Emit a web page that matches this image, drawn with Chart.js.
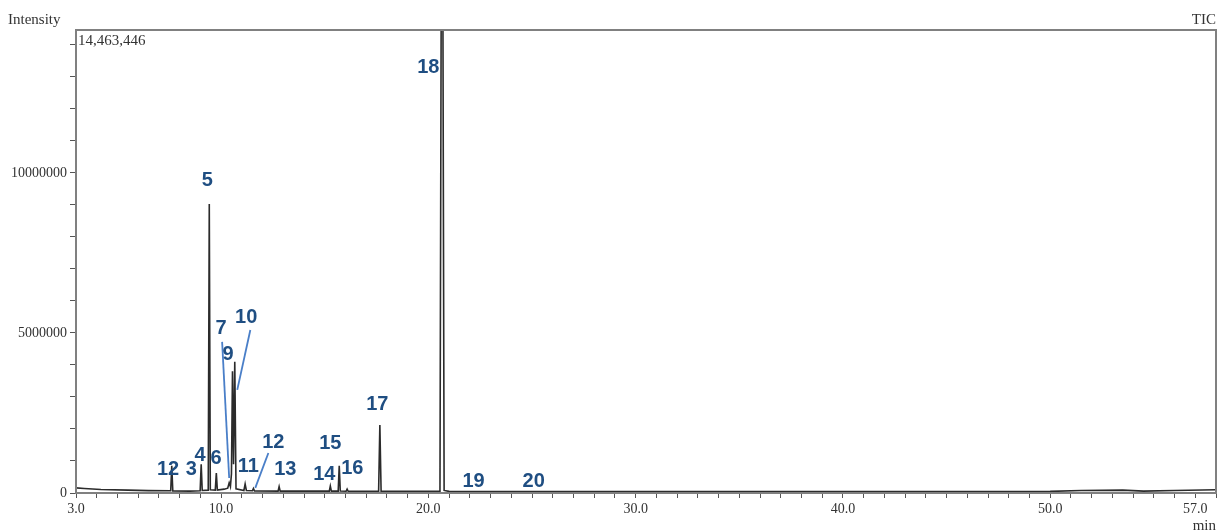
<!DOCTYPE html>
<html>
<head>
<meta charset="utf-8">
<script src="https://cdn.jsdelivr.net/npm/chart.js@4.4.1/dist/chart.umd.min.js"></script>
<style>
  html, body { margin: 0; padding: 0; background: #fff; }
  #wrap { width: 1219px; height: 532px; }
</style>
</head>
<body>
<div id="wrap"><canvas id="tic" width="1219" height="532"></canvas></div>
<script>
// retention time (min) and TIC intensity
const retentionTimes = [
  3.0, 3.4, 4.2, 5.5, 6.5,
  7.57, 7.62, 7.67,
  8.5, 8.99, 9.04, 9.09,
  9.38, 9.43, 9.48,
  9.72, 9.77, 9.82,
  10.15, 10.32, 10.39, 10.45,
  10.5, 10.55, 10.6, 10.66, 10.72,
  11.1, 11.16, 11.22,
  11.51, 11.56, 11.61,
  12.75, 12.8, 12.85,
  15.22, 15.27, 15.32,
  15.65, 15.7, 15.75,
  16.03, 16.08, 16.13,
  17.6, 17.66, 17.72,
  20.56, 20.62, 20.7, 20.76, 21.0,
  30.0, 40.0, 50.0, 51.5, 53.5, 54.5, 56.0, 58.0
];
const intensities = [
  160000, 140000, 110000, 90000, 75000,
  70000, 850000, 65000,
  60000, 70000, 900000, 80000,
  90000, 9030000, 100000,
  90000, 620000, 90000,
  120000, 150000, 320000, 200000,
  600000, 3800000, 900000, 4100000, 130000,
  80000, 280000, 80000,
  70000, 140000, 65000,
  60000, 200000, 60000,
  60000, 220000, 60000,
  60000, 850000, 60000,
  55000, 120000, 55000,
  55000, 2120000, 55000,
  50000, 15500000, 15500000, 80000, 50000,
  45000, 45000, 50000, 80000, 90000, 60000, 80000, 100000
];

// peak numbers and where they sit (time, intensity)
const peakLabels = ['12', '3', '4', '5', '6', '7', '9', '10', '11', '12', '13', '14', '15', '16', '17', '18', '19', '20'];
const peakLabelTimes = [7.44, 8.56, 8.99, 9.33, 9.76, 10.0, 10.34, 11.21, 11.31, 12.52, 13.1, 14.98, 15.27, 16.33, 17.54, 20.0, 22.18, 25.08];
const peakLabelLevels = [750000, 750000, 1160000, 9750000, 1090000, 5130000, 4340000, 5470000, 840000, 1590000, 720000, 590000, 1560000, 780000, 2780000, 13280000, 375000, 375000];

// leader lines: [t1, y1, t2, y2]
const leaderLines = [
  [10.05, 4720000, 10.39, 470000],
  [11.41, 5090000, 10.78, 3220000],
  [12.28, 1250000, 11.65, 160000]
];

const xLabelled = [3, 10, 20, 30, 40, 50, 57];
const yLabelled = [0, 5000000, 10000000];
const topIntensity = 14463446;

const serif = "'Liberation Serif', 'Times New Roman', serif";

const overlay = {
  id: 'overlay',
  afterDraw(chart) {
    const ctx = chart.ctx;
    const a = chart.chartArea;
    const x = chart.scales.x, y = chart.scales.y;
    ctx.save();
    // frame
    ctx.strokeStyle = '#808080';
    ctx.lineWidth = 2;
    ctx.strokeRect(a.left, a.top, a.right - a.left, a.bottom - a.top);

    // leader lines
    ctx.strokeStyle = '#4a7fc8';
    ctx.lineWidth = 1.8;
    leaderLines.forEach(l => {
      ctx.beginPath();
      ctx.moveTo(x.getPixelForValue(l[0]), y.getPixelForValue(l[1]));
      ctx.lineTo(x.getPixelForValue(l[2]), y.getPixelForValue(l[3]));
      ctx.stroke();
    });

    // peak numbers
    ctx.fillStyle = '#1f4e82';
    ctx.font = "bold 20px 'Liberation Sans', Arial, sans-serif";
    ctx.textAlign = 'center';
    ctx.textBaseline = 'middle';
    peakLabels.forEach((t, i) => {
      ctx.fillText(t, x.getPixelForValue(peakLabelTimes[i]), y.getPixelForValue(peakLabelLevels[i]));
    });

    // header texts
    ctx.fillStyle = '#333';
    ctx.font = '15px ' + serif;
    ctx.textAlign = 'left';
    ctx.fillText('Intensity', 8, 20);
    ctx.fillText(topIntensity.toLocaleString('en-US'), a.left + 2, a.top + 11);
    ctx.textAlign = 'right';
    ctx.fillText('TIC', a.right, 20);
    ctx.fillText('min', a.right, 526);
    ctx.restore();
  }
};

new Chart(document.getElementById('tic'), {
  type: 'line',
  data: {
    datasets: [{
      label: 'TIC',
      data: retentionTimes.map((t, i) => ({ x: t, y: intensities[i] })),
      borderColor: '#2b2b2b',
      borderWidth: 1.6,
      pointRadius: 0,
      tension: 0,
      fill: false
    }]
  },
  options: {
    responsive: false,
    animation: false,
    devicePixelRatio: 1,
    layout: { padding: { top: 30, right: 2, left: 0, bottom: 0 } },
    plugins: {
      legend: { display: false },
      tooltip: { enabled: false }
    },
    scales: {
      x: {
        type: 'linear',
        min: 3,
        max: 58,
        afterBuildTicks: s => {
          const t = [];
          for (let v = 3; v <= 58; v++) t.push({ value: v });
          s.ticks = t;
        },
        afterFit: s => { s.height = 39; },
        border: { display: false },
        grid: { drawOnChartArea: false, tickLength: 5, color: '#555' },
        ticks: {
          autoSkip: false,
          maxRotation: 0,
          padding: 3,
          color: '#333',
          font: { family: serif, size: 14 },
          callback: v => xLabelled.includes(v) ? v.toFixed(1) : ''
        }
      },
      y: {
        min: 0,
        max: topIntensity,
        afterBuildTicks: s => {
          const t = [];
          for (let v = 0; v <= 14000000; v += 1000000) t.push({ value: v });
          s.ticks = t;
        },
        afterFit: s => { s.width = 76; },
        border: { display: false },
        grid: { drawOnChartArea: false, tickLength: 6, color: '#555' },
        ticks: {
          autoSkip: false,
          padding: 3,
          color: '#333',
          font: { family: serif, size: 14 },
          callback: v => yLabelled.includes(v) ? String(v) : ''
        }
      }
    }
  },
  plugins: [overlay]
});
</script>
</body>
</html>
